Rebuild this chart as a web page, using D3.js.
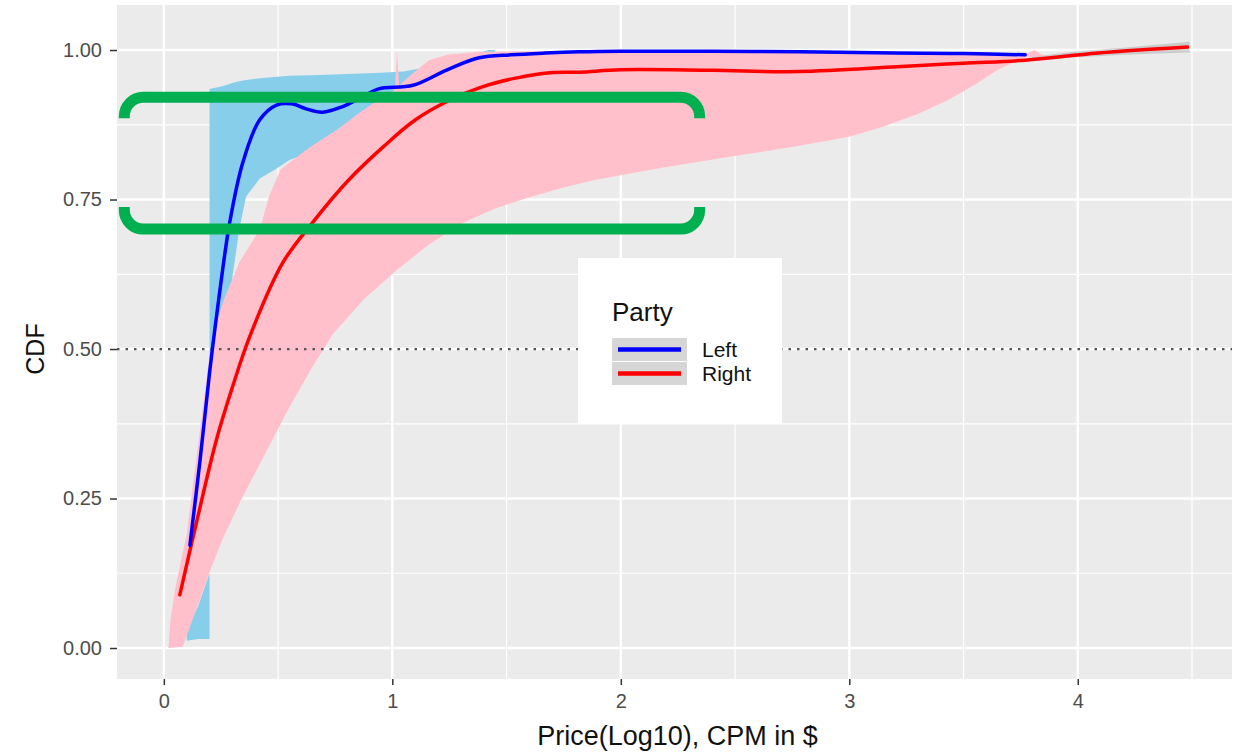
<!DOCTYPE html>
<html><head><meta charset="utf-8">
<script src="https://cdn.jsdelivr.net/npm/d3@7"></script>
<style>html,body{margin:0;padding:0;background:#fff;} svg{display:block;}</style>
</head><body><svg id="chart" width="1234" height="753"></svg>
<script>
// ---------- data ----------
const xTicks = [0, 1, 2, 3, 4];
const xMinor = [0.5, 1.5, 2.5, 3.5, 4.5];
const yTicks = [0, 0.25, 0.5, 0.75, 1];
const yMinor = [0.125, 0.375, 0.625, 0.875];
const parties = ["Left", "Right"];
const partyColors = ["#0000ff", "#ff0000"];
const bandColors = ["#87ceeb", "#ffc0cb"];
const refLineY = 0.5;

// Left (blue) smoothed CDF
const leftLineX = [0.114,0.157,0.20,0.223,0.26,0.288,0.345,0.419,0.493,0.56,0.62,0.694,0.78,0.87,0.94,1.09,1.24,1.38,1.52,1.67,1.82,2.0,2.4,2.78,3.2,3.5,3.77];
const leftLineY = [0.172,0.309,0.46,0.532,0.64,0.711,0.811,0.883,0.908,0.91,0.902,0.896,0.905,0.922,0.935,0.941,0.967,0.987,0.992,0.995,0.997,0.998,0.998,0.997,0.995,0.994,0.992];

// Right (red) smoothed CDF
const rightLineX = [0.07,0.135,0.23,0.30,0.375,0.52,0.65,0.81,0.96,1.10,1.25,1.39,1.54,1.69,1.82,2.0,2.4,2.78,3.21,3.5,3.77,4.09,4.48];
const rightLineY = [0.089,0.197,0.348,0.436,0.52,0.644,0.711,0.783,0.838,0.883,0.916,0.938,0.953,0.962,0.963,0.967,0.966,0.964,0.972,0.978,0.983,0.995,1.005];

// Left confidence band
const leftBandX  = [0.10,0.15,0.20,0.20,0.26,0.30,0.33,0.36,0.42,0.485,0.55,0.65,0.80,0.95,1.05,1.20,1.35,1.42,1.45];
const leftBandLo = [0.012,0.015,0.015,0.13,0.45,0.62,0.70,0.755,0.785,0.80,0.816,0.83,0.86,0.89,0.91,0.95,0.98,0.992,0.995];
const leftBandHi = [0.03,0.07,0.125,0.935,0.94,0.945,0.948,0.95,0.953,0.955,0.957,0.958,0.96,0.962,0.964,0.975,0.99,1.0,1.0];

// Right confidence band (upper-left and lower-right edges)
const rightUpperX = [0.02,0.03,0.05,0.08,0.10,0.13,0.16,0.19,0.22,0.26,0.33,0.42,0.46,0.51,0.55,0.64,0.755,0.856,0.956,1.00,1.012,1.02,1.03,1.05,1.09,1.16,1.24,1.38,1.6,2.0,2.5,3.0,3.5,3.78,3.81,3.84,3.86];
const rightUpperY = [0.0,0.05,0.10,0.155,0.19,0.28,0.37,0.46,0.53,0.58,0.645,0.70,0.755,0.80,0.812,0.838,0.866,0.895,0.921,0.93,0.935,1.0,0.94,0.948,0.961,0.983,0.992,0.997,0.998,0.998,0.997,0.996,0.995,0.994,1.0,0.993,0.99];
const rightLowerX = [0.02,0.083,0.114,0.157,0.20,0.26,0.345,0.45,0.55,0.65,0.74,0.88,1.02,1.16,1.31,1.45,1.60,1.75,1.89,2.18,2.47,2.75,3.0,3.14,3.3,3.43,3.55,3.65,3.77,3.86];
const rightLowerY = [0.0,0.002,0.035,0.08,0.127,0.185,0.253,0.33,0.403,0.47,0.525,0.585,0.632,0.675,0.711,0.735,0.754,0.77,0.783,0.803,0.821,0.838,0.855,0.871,0.893,0.916,0.942,0.967,0.988,0.99];

// narrow grey band at the tail of Right
const tailX  = [3.80,4.0,4.2,4.49];
const tailLo = [0.984,0.988,0.992,0.996];
const tailHi = [0.988,0.998,1.004,1.014];

// highlight annotation (data units)
const boxX = [-0.173, 2.345];
const boxY = [0.921, 0.7006];

// ---------- layout ----------
const svg = d3.select("#chart");
const P = {l:117, r:1232, t:5, b:679};
const x = d3.scaleLinear().domain([-0.205, 4.675]).range([P.l, P.r]);
const y = d3.scaleLinear().domain([-0.0518, 1.0753]).range([P.b, P.t]);
const FONT = "'Liberation Sans', Arial, Helvetica, sans-serif";

svg.append("rect").attr("width",1234).attr("height",753).attr("fill","#fff");
svg.append("rect").attr("x",P.l).attr("y",P.t).attr("width",P.r-P.l).attr("height",P.b-P.t).attr("fill","#ebebeb");

const grid = svg.append("g");
grid.selectAll(".xm").data(xMinor).join("line").attr("x1",d=>x(d)).attr("x2",d=>x(d)).attr("y1",P.t).attr("y2",P.b).attr("stroke","#fff").attr("stroke-width",1.2);
grid.selectAll(".ym").data(yMinor).join("line").attr("y1",d=>y(d)).attr("y2",d=>y(d)).attr("x1",P.l).attr("x2",P.r).attr("stroke","#fff").attr("stroke-width",1.2);
grid.selectAll(".xM").data(xTicks).join("line").attr("x1",d=>x(d)).attr("x2",d=>x(d)).attr("y1",P.t).attr("y2",P.b).attr("stroke","#fff").attr("stroke-width",2.4);
grid.selectAll(".yM").data(yTicks).join("line").attr("y1",d=>y(d)).attr("y2",d=>y(d)).attr("x1",P.l).attr("x2",P.r).attr("stroke","#fff").attr("stroke-width",2.4);

const plot = svg.append("g");

// Left band
const leftBand = leftBandX.map((v,i)=>({x:v, lo:leftBandLo[i], hi:leftBandHi[i]}));
plot.append("path").datum(leftBand)
  .attr("d", d3.area().x(d=>x(d.x)).y0(d=>y(d.lo)).y1(d=>y(d.hi)))
  .attr("fill", bandColors[0]);

// Right band polygon
const upper = rightUpperX.map((v,i)=>[v, rightUpperY[i]]);
const lower = rightLowerX.map((v,i)=>[v, rightLowerY[i]]).reverse();
plot.append("path").datum(upper.concat(lower))
  .attr("d", d=> d3.line().x(p=>x(p[0])).y(p=>y(p[1]))(d) + "Z")
  .attr("fill", bandColors[1]);

// tail band
const tail = tailX.map((v,i)=>({x:v, lo:tailLo[i], hi:tailHi[i]}));
plot.append("path").datum(tail)
  .attr("d", d3.area().x(d=>x(d.x)).y0(d=>y(d.lo)).y1(d=>y(d.hi)).curve(d3.curveMonotoneX))
  .attr("fill", "#999").attr("opacity", 0.4);

// dotted reference line
plot.append("line").attr("x1",P.l).attr("x2",P.r).attr("y1",y(refLineY)).attr("y2",y(refLineY))
  .attr("stroke","#555").attr("stroke-width",2.2).attr("stroke-dasharray","2.5,6");

// lines
const lineGen = d3.line().x(d=>x(d[0])).y(d=>y(d[1])).curve(d3.curveCatmullRom.alpha(0.5));
plot.append("path").datum(rightLineX.map((v,i)=>[v,rightLineY[i]]))
  .attr("d", lineGen).attr("fill","none").attr("stroke",partyColors[1]).attr("stroke-width",3.5).attr("stroke-linecap","round");
plot.append("path").datum(leftLineX.map((v,i)=>[v,leftLineY[i]]))
  .attr("d", lineGen).attr("fill","none").attr("stroke",partyColors[0]).attr("stroke-width",3.5).attr("stroke-linecap","round");

// axes
const yAxis = svg.append("g").attr("transform",`translate(${P.l},0)`)
  .call(d3.axisLeft(y).tickValues(yTicks).tickFormat(d3.format(".2f")).tickSize(7).tickPadding(8));
const xAxis = svg.append("g").attr("transform",`translate(0,${P.b})`)
  .call(d3.axisBottom(x).tickValues(xTicks).tickFormat(d3.format("d")).tickSize(6).tickPadding(9));
[yAxis, xAxis].forEach(a=>{
  a.select(".domain").remove();
  a.selectAll(".tick line").attr("stroke","#333").attr("stroke-width",1.5);
  a.selectAll(".tick text").attr("fill","#4d4d4d").style("font-family",FONT).style("font-size","20px");
});

svg.append("text").attr("x",(P.l+P.r)/2 + 3).attr("y",745).attr("text-anchor","middle")
  .style("font-family",FONT).style("font-size","27px").attr("fill","#111").text("Price(Log10), CPM in $");
svg.append("text").attr("transform",`translate(44,${y(0.5)}) rotate(-90)`).attr("text-anchor","middle")
  .style("font-family",FONT).style("font-size","25px").attr("fill","#111").text("CDF");

// legend
const lg = svg.append("g");
lg.append("rect").attr("x",578).attr("y",258).attr("width",204).attr("height",166).attr("fill","#fff");
lg.append("text").attr("x",612).attr("y",321).style("font-family",FONT).style("font-size","26px").attr("fill","#111").text("Party");
const items = lg.selectAll(".item").data(parties).join("g").attr("transform",(d,i)=>`translate(612,${338+i*24})`);
items.append("rect").attr("width",75).attr("height",23).attr("fill","#d6d6d6");
items.append("line").attr("x1",6).attr("x2",69).attr("y1",11.5).attr("y2",11.5).attr("stroke",(d,i)=>partyColors[i]).attr("stroke-width",4.5);
items.append("text").attr("x",90).attr("y",19).style("font-family",FONT).style("font-size","21px").attr("fill","#111").text(d=>d);

// green highlight bracket
const gx0 = x(boxX[0]), gx1 = x(boxX[1]), gyT = y(boxY[0]), gyB = y(boxY[1]);
const R = 19;
const ann = svg.append("g").attr("fill","none").attr("stroke","#00b050").attr("stroke-width",11).attr("stroke-linecap","butt");
ann.append("path").attr("d",`M${gx0},${gyT+21} L${gx0},${gyT+R} A${R},${R} 0 0 1 ${gx0+R},${gyT} L${gx1-R},${gyT} A${R},${R} 0 0 1 ${gx1},${gyT+R} L${gx1},${gyT+21}`);
ann.append("path").attr("d",`M${gx0},${gyB-22} L${gx0},${gyB-R} A${R},${R} 0 0 0 ${gx0+R},${gyB} L${gx1-R},${gyB} A${R},${R} 0 0 0 ${gx1},${gyB-R} L${gx1},${gyB-22}`);
</script></body></html>
